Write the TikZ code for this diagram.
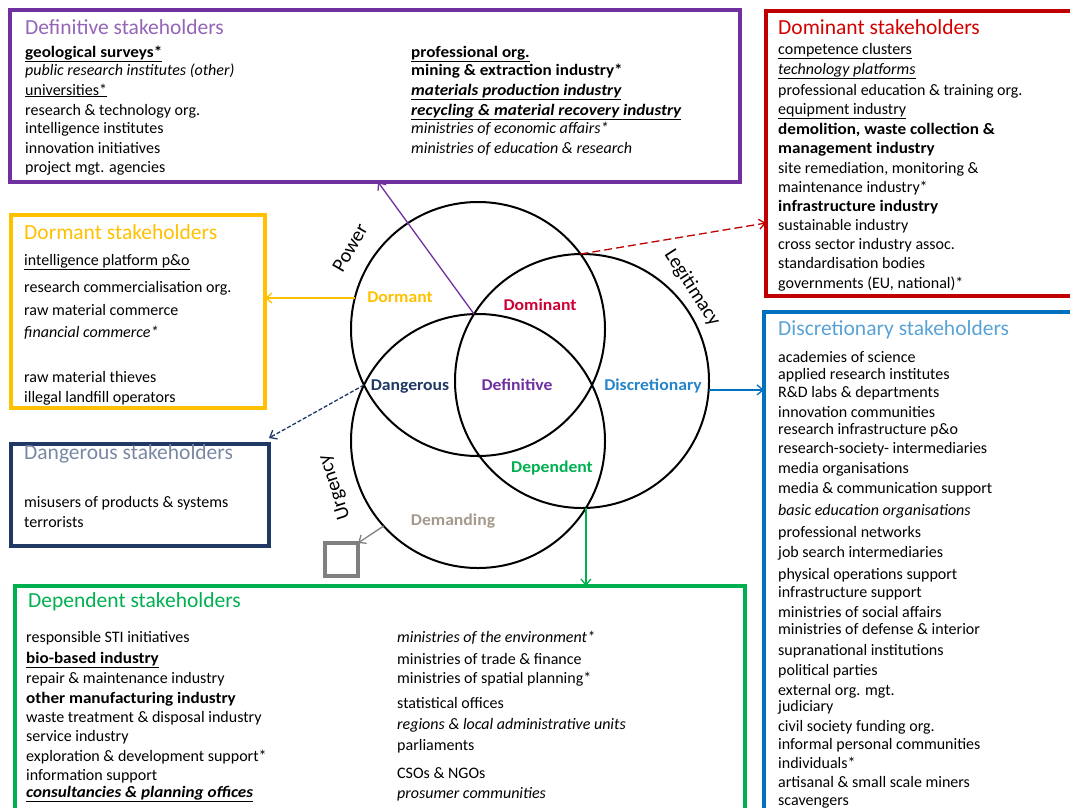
\documentclass[tikz,border=0pt]{standalone}
\usepackage{fontspec}
\setmainfont{Carlito}[BoldFeatures={FakeStretch=1.07}, BoldItalicFeatures={FakeStretch=1.07}]
\usetikzlibrary{arrows.meta}
\definecolor{defc}{HTML}{7030A0}
\definecolor{domc}{HTML}{C00000}
\definecolor{dorc}{HTML}{FFC000}
\definecolor{dangc}{HTML}{1F3864}
\definecolor{discc}{HTML}{0070C0}
\definecolor{depc}{HTML}{00B050}
\definecolor{demc}{HTML}{A6998C}
\definecolor{sqc}{HTML}{808080}
\begin{document}
\begin{tikzpicture}[x=1pt, y=-1pt, >={Straight Barb[length=6pt,width=10pt]}, line cap=butt, line join=miter,
	box/.style={draw=#1, line width=3.5pt, anchor=north west, inner sep=0pt, outer sep=0pt},
	venn/.style={line width=2pt},
	item/.style={anchor=base west, inner sep=0pt, font=\fontsize{16}{19}\selectfont},
	head/.style={anchor=base west, inner sep=0pt, text=#1, font=\fontsize{21.5}{24}\selectfont},
	region/.style={text=#1, inner sep=0pt, font=\fontsize{16.5}{20}\selectfont\bfseries},
	axis/.style={inner sep=0pt, font=\fontsize{20}{24}\selectfont},
	link/.style={->, draw=#1, line width=1.3pt}]
	\useasboundingbox (0,0) rectangle (1070,807);
	% boxes
	\node[box=defc, minimum width=730pt, minimum height=172pt] (defbox) at (10,10) {};
	\node[box=domc, minimum width=320pt, minimum height=285pt] (dombox) at (766,11) {};
	\node[box=dorc, minimum width=254pt, minimum height=193pt] (dorbox) at (11,215) {};
	\node[box=dangc, minimum width=258pt, minimum height=102pt] (dangbox) at (11,444) {};
	\node[box=discc, minimum width=320pt, minimum height=520pt] (discbox) at (764,312) {};
	\node[box=depc, minimum width=730pt, minimum height=250pt] (depbox) at (15,586) {};
	% headings
	\node[head=defc!75!white] (defhead) at (25,34) {Definitive stakeholders};
	\node[head=domc!70!red] (domhead) at (778,34) {Dominant stakeholders};
	\node[head=dorc] (dorhead) at (24,239) {Dormant stakeholders};
	\node[head=dangc!60!white] (danghead) at (24,459) {Dangerous stakeholders};
	\node[head=discc!65!white] (dischead) at (778,335) {Discretionary stakeholders};
	\node[head=depc] (dephead) at (28,607) {Dependent stakeholders};
	% definitive
	\foreach \y/\t [count=\i] in {57/\textbf{\underline{geological surveys*}}, 75/\textit{public research institutes (other)}, 95/\underline{universities*}, 115/research \& technology org., 133/intelligence institutes, 153/innovation initiatives, 172/project mgt. agencies}
		\node[item] (defl\i) at (25,\y) {\t};
	\foreach \y/\t [count=\i] in {57/\textbf{\underline{professional org.}}, 75/\textbf{mining \& extraction industry*}, 95/\textbf{\textit{\underline{materials production industry}}}, 115/\textbf{\textit{\underline{recycling \& material recovery industry}}}, 133/\textit{ministries of economic affairs*}, 153/\textit{ministries of education \& research}}
		\node[item] (defr\i) at (411,\y) {\t};
	% dominant
	\foreach \y/\t [count=\i] in {54/\underline{competence clusters}, 74/\textit{\underline{technology platforms}}, 95/professional education \& training org., 114/\underline{equipment industry}, 134/{\textbf{demolition, waste collection \&}}, 153/\textbf{management industry}, 173/{site remediation, monitoring \&}, 192/maintenance industry*, 211/\textbf{infrastructure industry}, 230/sustainable industry, 249/cross sector industry assoc., 268/standardisation bodies, 288/{governments (EU, national)*}}
		\node[item] (doml\i) at (778,\y) {\t};
	% dormant
	\foreach \y/\t [count=\i] in {265/\underline{intelligence platform p\&o}, 292/research commercialisation org., 315/raw material commerce, 337/\textit{financial commerce*}, 382/raw material thieves, 402/illegal landfill operators}
		\node[item] (dorl\i) at (24,\y) {\t};
	% dangerous
	\node[item] (dangl1) at (24,507) {misusers of products \& systems};
	\node[item] (dangl2) at (24,527) {terrorists};
	% discretionary
	\foreach \y/\t [count=\i] in {362/academies of science, 379/applied research institutes, 397/R\&D labs \& departments, 417/innovation communities, 434/research infrastructure p\&o, 453/research-society- intermediaries, 473/media organisations, 493/media \& communication support, 515/\textit{basic education organisations}, 537/professional networks, 557/job search intermediaries, 579/physical operations support, 597/infrastructure support, 617/ministries of social affairs, 634/ministries of defense \& interior, 655/supranational institutions, 675/political parties, 695/external org. mgt., 711/judiciary, 731/civil society funding org., 749/informal personal communities, 768/individuals*, 787/artisanal \& small scale miners, 805/scavengers}
		\node[item] (discl\i) at (778,\y) {\t};
	% dependent
	\foreach \y/\t [count=\i] in {642/responsible STI initiatives, 663/\textbf{\underline{bio-based industry}}, 683/repair \& maintenance industry, 703/\textbf{other manufacturing industry}, 722/waste treatment \& disposal industry, 741/service industry, 761/exploration \& development support*, 780/information support, 797/\textbf{\textit{\underline{consultancies \& planning offices}}}}
		\node[item] (depl\i) at (26,\y) {\t};
	\foreach \y/\t [count=\i] in {642/\textit{ministries of the environment*}, 664/ministries of trade \& finance, 683/ministries of spatial planning*, 708/statistical offices, 729/\textit{regions \& local administrative units}, 750/parliaments, 778/CSOs \& NGOs, 798/\textit{prosumer communities}}
		\node[item] (depr\i) at (397,\y) {\t};
	% venn
	\draw[venn] (478,329) circle[radius=127] (582,381) circle[radius=127] (478,441) circle[radius=127];
	\coordinate (pl) at (580.5,254);
	\coordinate (pu) at (364,385);
	\coordinate (lu1) at (474.1,314.1);
	\coordinate (lu2) at (585.9,507.9);
	\coordinate (pw) at (354.8,298);
	\coordinate (lg) at (708.7,389.9);
	\coordinate (ug) at (383.6,526);
	\node[axis, rotate=60] (powerlab) at (350,248) {Power};
	\node[axis, rotate=-57] (legitlab) at (692,288) {Legitimacy};
	\node[axis, rotate=108] (urgencylab) at (335,487) {Urgency};
	\node[region=dorc] (dormant) at (400,297) {Dormant};
	\node[region=domc!80!magenta] (dominant) at (540,305) {Dominant};
	\node[region=dangc] (dangerous) at (410,387) {Dangerous};
	\node[region=defc] (definitive) at (517,385) {Definitive};
	\node[region=discc!85!white] (discretionary) at (653,386) {Discretionary};
	\node[region=depc] (dependent) at (552,468) {Dependent};
	\node[region=demc] (demanding) at (453,521) {Demanding};
	\node[draw=sqc, line width=3.5pt, minimum size=33pt, inner sep=0pt, outer sep=0pt] (sq) at (341.5,559.5) {};
	% connectors
	\draw[link=defc] (lu1) -- ([xshift=368pt]defbox.south west);
	\draw[link=domc, dash pattern=on 8pt off 4pt] (pl) -- ([yshift=-212pt]dombox.north west);
	\draw[link=dorc] (pw) -- (pw -| dorbox.east);
	\draw[link=dangc, dash pattern=on 4pt off 2pt] (pu) -- ([yshift=6pt]dangbox.north east);
	\draw[link=discc] (lg) -- (lg -| discbox.west);
	\draw[link=depc] (lu2) -- (lu2 |- depbox.north);
	\draw[link=sqc] (ug) -- (sq.north east);
\end{tikzpicture}
\end{document}
